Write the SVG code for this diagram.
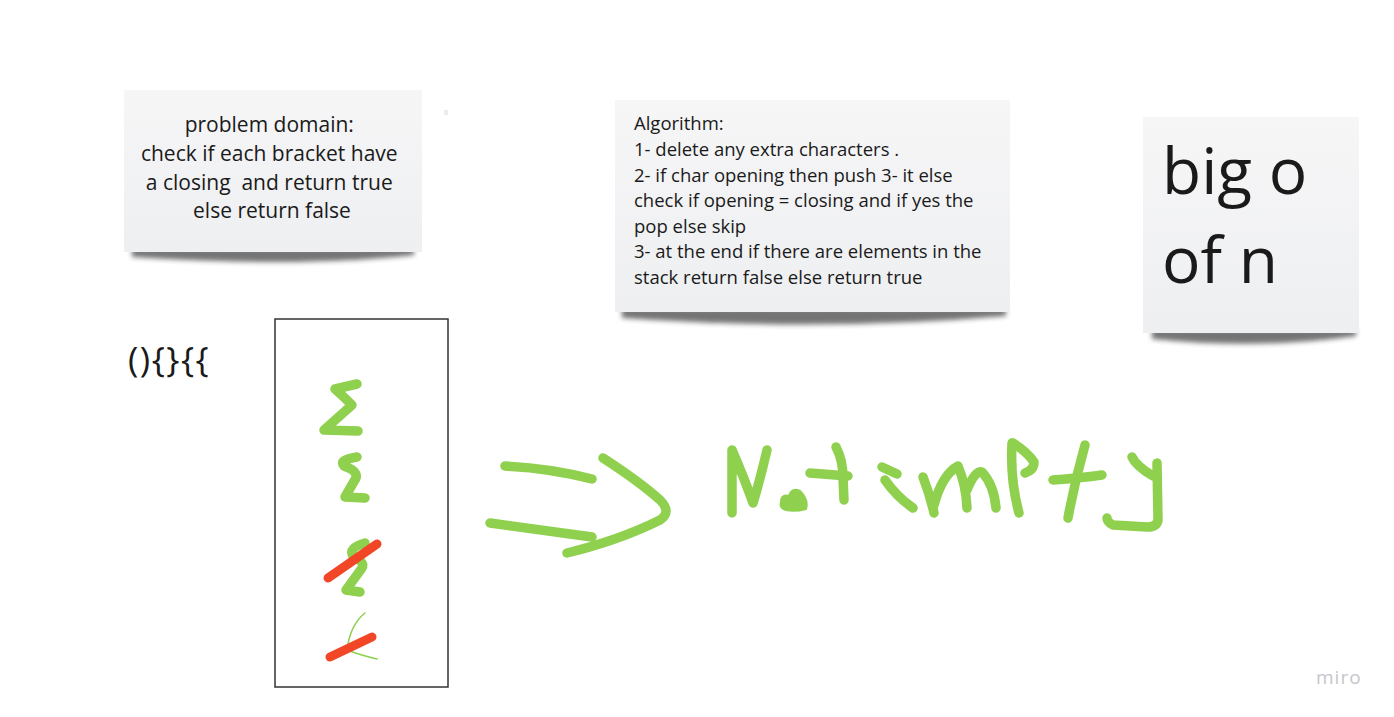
<svg xmlns="http://www.w3.org/2000/svg" width="1394" height="717" viewBox="0 0 1394 717">
  <style>
    .note { fill: url(#noteGrad); }
    .txt { font-family: "Open Sans", "Noto Sans", "Liberation Sans", sans-serif; fill: #1a1a1a; }
    .g { fill: none; stroke: #8fd14f; stroke-width: 9.5; stroke-linecap: round; stroke-linejoin: round; }
    .gthin { fill: none; stroke: #8fd14f; stroke-width: 1.6; stroke-linecap: round; }
    .r { fill: none; stroke: #f24726; stroke-width: 9; stroke-linecap: round; }
    .shadow { fill: #2a2a2a; opacity: 0.65; filter: url(#blur); }
  </style>
  <defs>
    <linearGradient id="noteGrad" x1="0" y1="0" x2="0" y2="1">
      <stop offset="0" stop-color="#f6f6f7"/>
      <stop offset="1" stop-color="#eeeff1"/>
    </linearGradient>
    <filter id="blur" x="-10%" y="-100%" width="120%" height="300%">
      <feGaussianBlur stdDeviation="2.6"/>
    </filter>
  </defs>
  <rect width="1394" height="717" fill="#ffffff"/>

  <g id="note-problem">
    <path class="shadow" d="M132,248 L414,248 L414,255 Q300,268 132,257 Z"/>
    <rect class="note" x="124" y="90" width="298" height="162"/>
    <text class="txt" font-size="21" text-anchor="middle">
      <tspan x="272" y="132">problem domain:</tspan>
      <tspan x="272" y="161">check if each bracket have</tspan>
      <tspan x="272" y="190">a closing&#160; and return true</tspan>
      <tspan x="272" y="218">else return false</tspan>
    </text>
  </g>

  <rect x="444" y="110" width="4" height="5" fill="#ececec"/>

  <g id="note-algorithm">
    <path class="shadow" d="M622,308 L1006,308 L1006,316 Q820,332 622,318 Z"/>
    <rect class="note" x="615" y="100" width="395" height="212"/>
    <text class="txt" font-size="18.5">
      <tspan x="634" y="130">Algorithm:</tspan>
      <tspan x="634" y="156">1- delete any extra characters .</tspan>
      <tspan x="634" y="181.5">2- if char opening then push 3- it else</tspan>
      <tspan x="634" y="207">check if opening = closing and if yes the</tspan>
      <tspan x="634" y="232.5">pop else skip</tspan>
      <tspan x="634" y="258">3- at the end if there are elements in the</tspan>
      <tspan x="634" y="283.5">stack return false else return true</tspan>
    </text>
  </g>

  <g id="note-bigo">
    <path class="shadow" d="M1152,329 L1356,329 L1356,336 Q1260,350 1152,339 Z"/>
    <rect class="note" x="1143" y="117" width="216" height="216"/>
    <text class="txt" font-size="64">
      <tspan x="1162" y="194">big o</tspan>
      <tspan x="1162" y="283">of n</tspan>
    </text>
  </g>

  <g id="input">
    <text class="txt" font-size="35" letter-spacing="1.5" x="128" y="372">(){}{{</text>
  </g>

  <g id="stack">
    <rect x="275" y="319" width="173" height="368" fill="none" stroke="#333333" stroke-width="1.5"/>
    <path class="g" d="M357,384 L335,389 Q344,397 352,405 L324,430 L358,431"/>
    <path class="g" d="M357,457 Q338,460 344,466 Q358,471 356,478 L345,497 L365,498"/>
    <path class="g" d="M365,543 Q348,548 353,556 Q365,562 362,568 L346,590 L360,592"/>
    <path class="r" d="M328,578 L377,544"/>
    <path class="gthin" d="M365,613 Q350,625 347,650 Q360,655 377,659"/>
    <path class="r" d="M330,657 L372,637"/>
  </g>

  <g id="connectors">
    <path class="g" d="M505,466 Q550,468 592,479"/>
    <path class="g" d="M490,523 Q540,530 592,537"/>
    <path class="g" d="M603,458 Q640,482 660,500 Q672,512 660,520 Q620,540 567,553"/>
  </g>

  <g id="result-not-empty">
    <path class="g" d="M732,513 L732,450 Q745,480 753,503 Q760,480 767,450"/>
    <path d="M781,502 Q781,494 789,496 Q792,487 800,491 Q809,500 806,509 Q795,512 786,510 Q779,508 781,502 Z" fill="#8fd14f" stroke="#8fd14f" stroke-width="2" stroke-linejoin="round"/>
    <path class="g" d="M810,473 L848,476"/>
    <path class="g" d="M836,447 Q843,460 843,478 L844,500"/>
    <path class="g" d="M882,467 L897,474" stroke-width="13"/>
    <path class="g" d="M885,480 Q897,497 913,508"/>
    <path class="g" d="M923,477 Q930,495 934,513"/>
    <path class="g" d="M934,505 Q942,475 958,466 Q966,485 967,508"/>
    <path class="g" d="M967,490 Q975,470 982,472 Q994,485 996,508"/>
    <path class="g" d="M1012,443 Q1010,480 1019,513"/>
    <path class="g" d="M1013,443 Q1027,452 1034,462 Q1034,470 1025,473"/>
    <path class="g" d="M1085,445 Q1075,480 1068,518"/>
    <path class="g" d="M1053,480 Q1080,478 1102,475"/>
    <path class="g" d="M1132,457 Q1136,466 1153,476"/>
    <path class="g" d="M1157,463 L1158,520 Q1157,527 1147,527 L1113,525 Q1107,522 1107,518"/>
  </g>

  <text x="1316" y="684" font-family="'Open Sans', 'Liberation Sans', sans-serif" font-size="19" fill="#c5c6cc" letter-spacing="1">miro</text>
</svg>
